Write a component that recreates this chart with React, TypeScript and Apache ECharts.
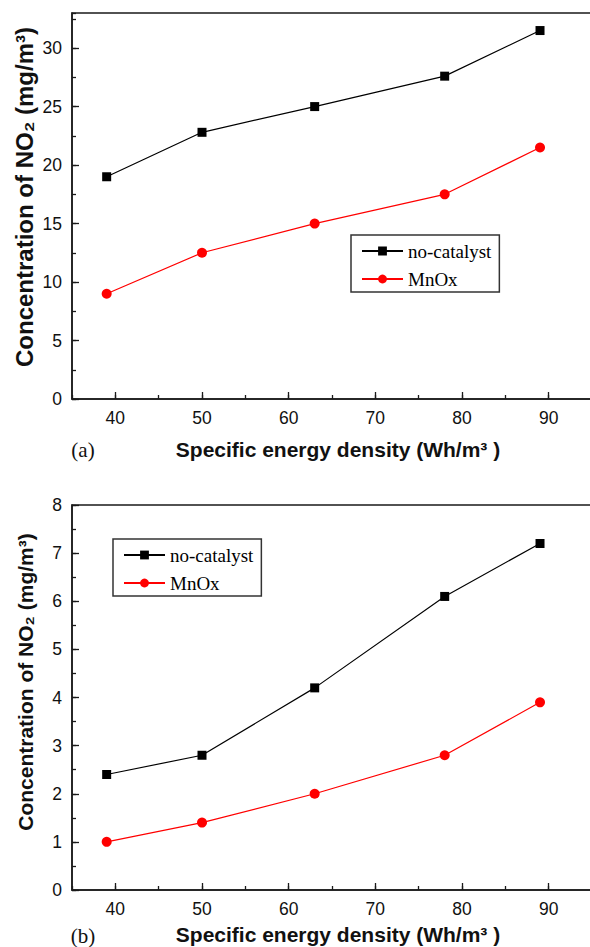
import React, { useEffect, useRef } from "react";
import * as echarts from "echarts";

// ---- data ----
const energyDensity = [39, 50, 63, 78, 89];
const noCatalystA = [19, 22.8, 25, 27.6, 31.5];
const mnoxA = [9, 12.5, 15, 17.5, 21.5];
const noCatalystB = [2.4, 2.8, 4.2, 6.1, 7.2];
const mnoxB = [1.0, 1.4, 2.0, 2.8, 3.9];
const seriesNames = ["no-catalyst", "MnOx"];
const panelLabels = ["(a)", "(b)"];
const xTitle = "Specific energy density (Wh/m\u00b3 )";
const yTitle = "Concentration of NO\u2082 (mg/m\u00b3)";

const SANS = '"Liberation Sans", Arial, sans-serif';
const SERIF = '"Liberation Serif", "Times New Roman", serif';
const AX = "#1a1a1a";

// the reference frame is cropped on the right: extend the axis past the page edge
const X_MIN = 35;
const X_MAX = 98;
const PX_PER_X = 8.667;
const GRID_W = (X_MAX - X_MIN) * PX_PER_X;
const GRID_H = [386, 385];

const pairs = (ys: number[]) => energyDensity.map((x, i) => [x, ys[i]]);

function mainX(gridIndex: number) {
  return {
    type: "value",
    gridIndex,
    min: X_MIN,
    max: X_MAX,
    splitNumber: 6,
    position: "bottom",
    axisLine: { show: true, onZero: false, lineStyle: { color: AX, width: 1.5 } },
    axisTick: { show: true, inside: true, length: 7, lineStyle: { color: AX, width: 1.3 } },
    axisLabel: {
      show: true,
      showMinLabel: false,
      showMaxLabel: false,
      margin: 10,
      fontFamily: SANS,
      fontSize: 17.5,
      color: "#111",
      formatter: (v: number) => (v % 10 === 0 ? String(v) : ""),
    },
    splitLine: { show: false },
  };
}
// minor ticks: a top axis shifted down onto the bottom edge, ticks pointing up
function minorX(gridIndex: number) {
  return {
    type: "value",
    gridIndex,
    min: X_MIN,
    max: X_MAX,
    interval: 5,
    position: "top",
    offset: -GRID_H[gridIndex],
    axisLine: { show: false, onZero: false },
    axisTick: { show: true, inside: false, length: 4, lineStyle: { color: AX, width: 1.3 } },
    axisLabel: { show: false },
    splitLine: { show: false },
  };
}
function mainY(gridIndex: number, max: number, interval: number) {
  return {
    type: "value",
    gridIndex,
    min: 0,
    max,
    interval,
    position: "left",
    axisLine: { show: true, onZero: false, lineStyle: { color: AX, width: 1.5 } },
    axisTick: { show: true, inside: true, length: 7, lineStyle: { color: AX, width: 1.3 } },
    axisLabel: {
      show: true,
      showMaxLabel: max % interval === 0,
      margin: 10,
      fontFamily: SANS,
      fontSize: 17.5,
      color: "#111",
    },
    splitLine: { show: false },
  };
}
// minor ticks: a right axis shifted onto the left edge, ticks pointing right
function minorY(gridIndex: number, max: number, interval: number) {
  return {
    type: "value",
    gridIndex,
    min: 0,
    max,
    interval,
    position: "right",
    offset: -GRID_W,
    axisLine: { show: false, onZero: false },
    axisTick: { show: true, inside: false, length: 4, lineStyle: { color: AX, width: 1.3 } },
    axisLabel: { show: false },
    splitLine: { show: false },
  };
}

function lineSeries(name: string, data: number[][], xi: number, yi: number, black: boolean) {
  return {
    type: "line",
    name,
    xAxisIndex: xi,
    yAxisIndex: yi,
    data,
    symbol: black ? "rect" : "circle",
    symbolSize: black ? 9 : 10,
    showSymbol: true,
    lineStyle: { color: black ? "#000" : "#ff0000", width: 1.2 },
    itemStyle: { color: black ? "#000" : "#ff0000" },
  };
}

function legend(left: number, top: number) {
  return {
    show: true,
    data: seriesNames,
    orient: "vertical",
    left,
    top,
    itemWidth: 41,
    itemHeight: 11,
    itemGap: 8,
    padding: [6, 8, 3, 10],
    borderColor: "#333",
    borderWidth: 1.5,
    backgroundColor: "#fff",
    selectedMode: false,
    textStyle: { fontFamily: SERIF, fontSize: 19, color: "#000", lineHeight: 20 },
  };
}

function textEl(x: number, y: number, text: string, font: string, rotate = false) {
  return {
    type: "text",
    x,
    y,
    rotation: rotate ? Math.PI / 2 : 0,
    style: {
      text,
      x: 0,
      y: 0,
      font,
      fill: "#111",
      textAlign: "center",
      textVerticalAlign: "middle",
    },
  };
}

function grid(top: number, height: number) {
  return {
    left: 72,
    top,
    width: GRID_W,
    height,
    containLabel: false,
    outerBoundsMode: "none",
    show: true,
    borderColor: AX,
    borderWidth: 1.5,
    backgroundColor: "transparent",
  };
}

export default function App() {
  const ref = useRef<HTMLDivElement>(null);
  useEffect(() => {
    if (!ref.current) return;
    const chart = echarts.init(ref.current, undefined, { renderer: "svg" });
    chart.setOption({
      animation: false,
      backgroundColor: "#fff",
      grid: [grid(13, GRID_H[0]), grid(505, GRID_H[1])],
      xAxis: [mainX(0), minorX(0), mainX(1), minorX(1)],
      yAxis: [mainY(0, 33, 5), minorY(0, 33, 2.5), mainY(1, 8, 1), minorY(1, 8, 0.5)],
      legend: [legend(351, 235), legend(113, 539)],
      series: [
        lineSeries(seriesNames[0], pairs(noCatalystA), 0, 0, true),
        lineSeries(seriesNames[1], pairs(mnoxA), 0, 0, false),
        lineSeries(seriesNames[0], pairs(noCatalystB), 2, 2, true),
        lineSeries(seriesNames[1], pairs(mnoxB), 2, 2, false),
      ],
      graphic: [
        textEl(24, 197, yTitle, `bold 24px ${SANS}`, true),
        textEl(25.5, 682, yTitle, `bold 21px ${SANS}`, true),
        textEl(338, 449, xTitle, `bold 21px ${SANS}`),
        textEl(338, 934, xTitle, `bold 21px ${SANS}`),
        textEl(83, 450, panelLabels[0], `21px ${SERIF}`),
        textEl(83, 936, panelLabels[1], `21px ${SERIF}`),
      ],
    });
    return () => chart.dispose();
  }, []);
  return (
    <div
      ref={ref}
      style={{ position: "absolute", left: 0, top: 0, width: 590, height: 947 }}
    />
  );
}
